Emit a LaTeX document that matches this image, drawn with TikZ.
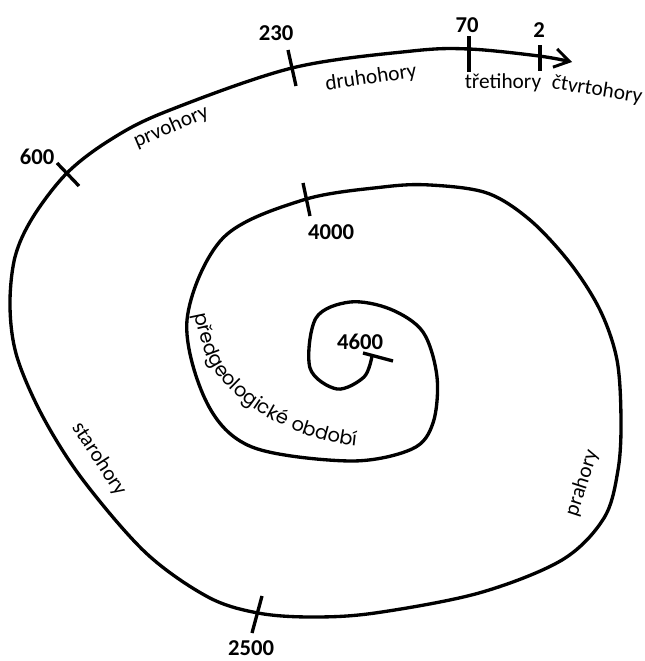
\documentclass[tikz,border=0pt]{standalone}
\usepackage{fontspec}
\setmainfont{Carlito}
\newfontfamily\geofont{Poppins}
\usetikzlibrary{arrows.meta,decorations.text}
\begin{document}
\begin{tikzpicture}[x=0.75pt,y=-0.75pt,
  spiral/.style={line width=2.5pt,line cap=round,line join=round},
  tick/.style={line width=2.5pt},
  num/.style={font=\fontsize{17}{20}\selectfont\bfseries,inner sep=0pt},
  era/.style={font=\fontsize{16}{19}\selectfont,inner sep=0pt}]
\useasboundingbox (0,0) rectangle (644,661);

% spiral from the centre outwards
\draw[spiral,-{Straight Barb[length=11pt,width=14pt,line width=2.2pt]}]
  plot[smooth,tension=0.55] coordinates {
  (372,356) (364,377) (337,389) (310,368) (316,318) (350,302) (390,309)
  (423,332) (437,377) (433,423) (412,449) (350,461) (252,447) (207,403)
  (187,320) (223,238) (303,200) (383,187) (430,185) (487,193) (530,220)
  (570,263) (600,310) (617,360) (621,420) (618,470) (604,518) (562,560)
  (479,593) (375,613) (312,617) (258,613) (208,597) (146,553) (83,480)
  (43,417) (17,357) (10,307) (15,257) (33,217) (67,173) (110,140)
  (165,112) (292,68) (412,51) (469,49) (539,56) (572,62)};

% ticks
\coordinate (t4600a) at (363,353); \coordinate (t4600b) at (393,361);
\coordinate (t4000a) at (303,183); \coordinate (t4000b) at (310,216);
\coordinate (t2500a) at (262,596); \coordinate (t2500b) at (252,633);
\coordinate (t600a) at (57,163);  \coordinate (t600b) at (79,186);
\coordinate (t230a) at (288,50);  \coordinate (t230b) at (296,86);
\coordinate (t70a) at (469,36);   \coordinate (t70b) at (469,72);
\coordinate (t2a) at (540,45);    \coordinate (t2b) at (540,71);
\draw[tick] (t4600a) -- (t4600b);
\draw[tick] (t4000a) -- (t4000b);
\draw[tick] (t2500a) -- (t2500b);
\draw[tick] (t600a) -- (t600b);
\draw[tick] (t230a) -- (t230b);
\draw[tick] (t70a) -- (t70b);
\draw[tick] (t2a) -- (t2b);

% numbers
\node[num] (n230) at (276,33) {230};
\node[num] (n70) at (467,25) {70};
\node[num] (n2) at (539,30) {2};
\node[num] (n600) at (37,157) {600};
\node[num] (n4000) at (331,232) {4000};
\node[num] (n4600) at (360,342) {4600};
\node[num] (n2500) at (251,648) {2500};

% era names
\node[era,rotate=23] (prvo) at (171,127) {prvohory};
\node[era,rotate=8] (druho) at (371,78) {druhohory};
\node[era] (treti) at (503,83) {třetihory};
\node[era,rotate=-9] (ctvrto) at (597,90) {čtvrtohory};
\node[era,rotate=-57] (staro) at (99,459) {starohory};
\node[era,rotate=72] (pra) at (582,483) {prahory};

% text along the inner turn
\path[decorate,decoration={text along path,text align=left,
  text={|\geofont\fontsize{14.5}{16}\selectfont|předgeologické období}}]
  plot[smooth,tension=0.6] coordinates {(195,314) (206,355) (228,387) (261,413) (299,432) (337,443) (366,447) (400,449)};
\end{tikzpicture}
\end{document}
